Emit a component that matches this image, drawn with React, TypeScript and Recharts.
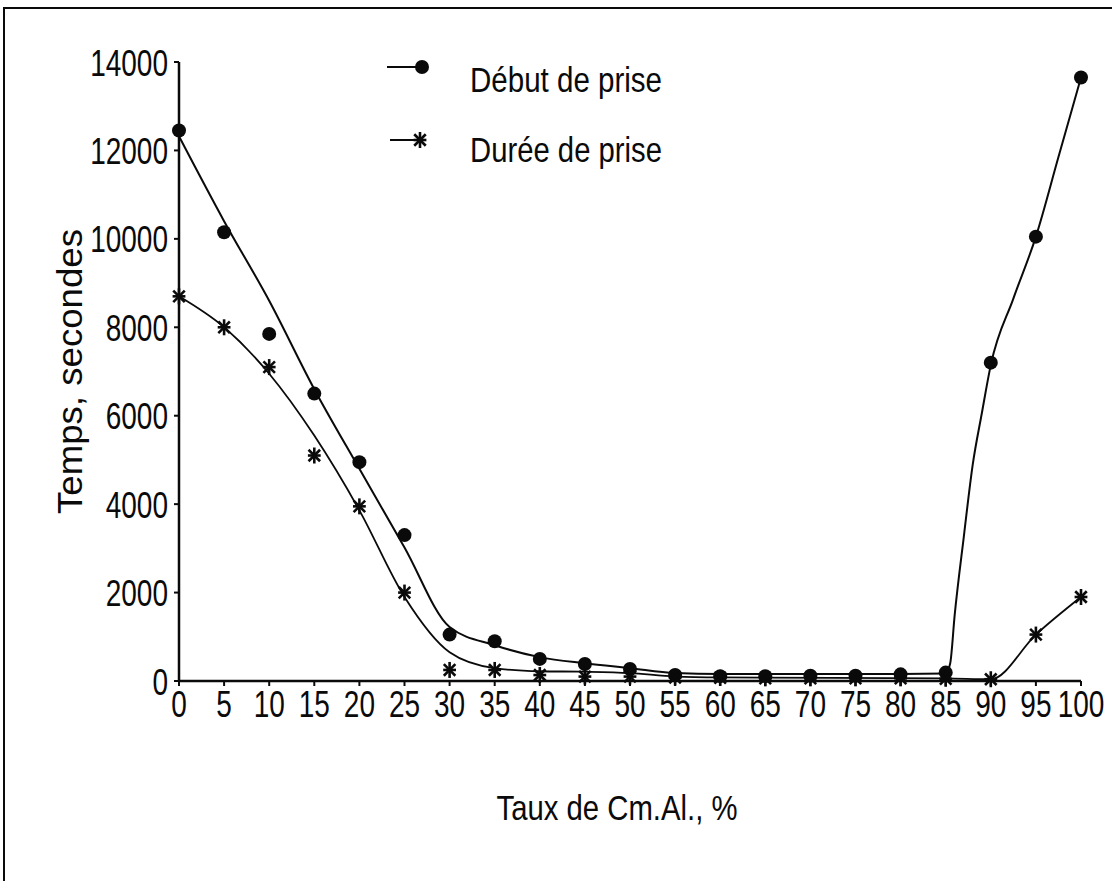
import React from 'react';
import { ComposedChart, Line, XAxis, YAxis, Legend, Label } from 'recharts';

// Marker positions (measured points)
const categories = [0, 5, 10, 15, 20, 25, 30, 35, 40, 45, 50, 55, 60, 65, 70, 75, 80, 85, 90, 95, 100];
const debutValues = [12450, 10150, 7850, 6500, 4950, 3300, 1050, 900, 500, 385, 270, 135, 110, 110, 120, 120, 150, 190, 7200, 10050, 13650];
const dureeValues = [8700, 8000, 7100, 5100, 3950, 2000, 250, 250, 135, 100, 100, 80, 70, 60, 60, 60, 60, 50, 40, 1050, 1900];

// Fitted (smoothed) curves
const debutFitX = [0, 5, 10, 15, 20, 25, 30, 35, 40, 45, 50, 55, 60, 70, 80, 85, 85.5, 86, 87, 88, 89, 90, 92.5, 95, 97.5, 100];
const debutFitY = [12320, 10400, 8600, 6600, 4800, 3020, 1220, 810, 540, 400, 290, 180, 160, 160, 160, 170, 400, 1500, 3250, 4900, 6050, 7150, 8650, 10050, 11850, 13650];
const dureeFitX = [0, 5, 10, 15, 20, 25, 30, 35, 40, 45, 50, 55, 60, 85, 90, 95, 100];
const dureeFitY = [8700, 8000, 6950, 5550, 3860, 1900, 650, 290, 220, 210, 180, 100, 80, 60, 40, 1050, 1900];

const xTicks = [0, 5, 10, 15, 20, 25, 30, 35, 40, 45, 50, 55, 60, 65, 70, 75, 80, 85, 90, 95, 100];
const yTicks = [0, 2000, 4000, 6000, 8000, 10000, 12000, 14000];

const seriesNames = ['Début de prise', 'Durée de prise'];
const xTitle = 'Taux de Cm.Al., %';
const yTitle = 'Temps, secondes';

const toPoints = (xs: number[], ys: number[]) => xs.map((x, i) => ({ x, y: ys[i] }));
const debutPts = toPoints(categories, debutValues);
const dureePts = toPoints(categories, dureeValues);
const debutFit = toPoints(debutFitX, debutFitY);
const dureeFit = toPoints(dureeFitX, dureeFitY);

const FONT = '"Liberation Sans", Arial, sans-serif';
const INK = '#0a0a0a';

const Dot = (props: any) => {
  const { cx, cy } = props;
  if (cx == null || cy == null) return null;
  return <circle cx={cx} cy={cy} r={7} fill={INK} stroke="none" />;
};

const Star = (props: any) => {
  const { cx, cy } = props;
  if (cx == null || cy == null) return null;
  const r = 8;
  const d = r * 0.72;
  return (
    <g stroke={INK} strokeWidth={2.6}>
      <line x1={cx} y1={cy - r} x2={cx} y2={cy + r} />
      <line x1={cx - r * 0.8} y1={cy} x2={cx + r * 0.8} y2={cy} />
      <line x1={cx - d} y1={cy - d} x2={cx + d} y2={cy + d} />
      <line x1={cx - d} y1={cy + d} x2={cx + d} y2={cy - d} />
    </g>
  );
};

const YTick = (props: any) => {
  const { x, y, payload } = props;
  return (
    <g transform={`translate(${x},${y}) scale(0.8,1.08)`}>
      <text x={0} y={0} dy="0.36em" textAnchor="end" fontSize={35} fontFamily={FONT} fill={INK}>
        {payload.value}
      </text>
    </g>
  );
};

const XTick = (props: any) => {
  const { x, y, payload } = props;
  return (
    <g transform={`translate(${x},${y}) scale(0.8,1.08)`}>
      <text x={0} y={0} dy="0.72em" textAnchor="middle" fontSize={35} fontFamily={FONT} fill={INK}>
        {payload.value}
      </text>
    </g>
  );
};

const XTitle = (props: any) => {
  const vb = props.viewBox || {};
  const cx = vb.x + vb.width / 2 - 13;
  const y = vb.y + 139;
  return (
    <text x={cx} y={y} textAnchor="middle" fontSize={35} fontFamily={FONT} fill={INK}
      textLength={241} lengthAdjust="spacingAndGlyphs">
      {xTitle}
    </text>
  );
};

const YTitle = (props: any) => {
  const vb = props.viewBox || {};
  const x = vb.x + vb.width - 97;
  const cy = vb.y + vb.height / 2;
  return (
    <text x={x} y={cy} transform={`rotate(-90, ${x}, ${cy})`} textAnchor="middle" fontSize={35}
      fontFamily={FONT} fill={INK} textLength={285} lengthAdjust="spacingAndGlyphs">
      {yTitle}
    </text>
  );
};

const LegendContent = () => (
  <div style={{ position: 'relative', width: 0, height: 0, overflow: 'visible' }}>
    <svg width={400} height={200} style={{ position: 'absolute', left: 0, top: 0, overflow: 'visible' }}>
      <line x1={387} y1={67} x2={422} y2={67} stroke={INK} strokeWidth={2} />
      <Dot cx={422} cy={67} />
      <text x={470} y={92} fontSize={35} fontFamily={FONT} fill={INK} textLength={192} lengthAdjust="spacingAndGlyphs">
        {seriesNames[0]}
      </text>
      <line x1={390} y1={140} x2={420} y2={140} stroke={INK} strokeWidth={2} />
      <Star cx={420} cy={140} />
      <text x={470} y={162} fontSize={35} fontFamily={FONT} fill={INK} textLength={192} lengthAdjust="spacingAndGlyphs">
        {seriesNames[1]}
      </text>
    </svg>
  </div>
);

export default function App() {
  return (
    <div style={{ position: 'absolute', left: 0, top: 0, width: 1112, height: 881, background: '#fff' }}>
      <div style={{ position: 'absolute', left: 3, top: 7, right: 0, bottom: 0, borderTop: `2px solid ${INK}`, borderLeft: `2px solid ${INK}` }} />
      <div style={{ position: 'absolute', left: 0, top: 0 }}>
        <ComposedChart width={1112} height={881} margin={{ top: 62, right: 31, bottom: 160, left: 99 }}>
          <XAxis dataKey="x" type="number" domain={[0, 100]} ticks={xTicks} interval={0}
            allowDuplicatedCategory={false}
            stroke={INK} strokeWidth={2.5} tickSize={5} tickMargin={4} height={40} tick={<XTick />}
            tickLine={{ stroke: INK, strokeWidth: 2 }}>
            <Label content={<XTitle />} />
          </XAxis>
          <YAxis dataKey="y" type="number" domain={[0, 14000]} ticks={yTicks} interval={0} width={80}
            stroke={INK} strokeWidth={2.5} tickSize={5} tickMargin={6} tick={<YTick />}
            tickLine={{ stroke: INK, strokeWidth: 2 }}>
            <Label content={<YTitle />} />
          </YAxis>
          <Legend content={<LegendContent />} wrapperStyle={{ position: 'absolute', left: 0, top: 0, width: 0, height: 0 }} />
          <Line data={debutFit} dataKey="y" type="monotone" stroke={INK} strokeWidth={2} dot={false}
            isAnimationActive={false} legendType="none" activeDot={false} />
          <Line data={dureeFit} dataKey="y" type="monotone" stroke={INK} strokeWidth={1.8} dot={false}
            isAnimationActive={false} legendType="none" activeDot={false} />
          <Line data={debutPts} dataKey="y" stroke="none" strokeWidth={0} dot={<Dot />}
            isAnimationActive={false} name={seriesNames[0]} activeDot={false} />
          <Line data={dureePts} dataKey="y" stroke="none" strokeWidth={0} dot={<Star />}
            isAnimationActive={false} name={seriesNames[1]} activeDot={false} />
        </ComposedChart>
      </div>
    </div>
  );
}
